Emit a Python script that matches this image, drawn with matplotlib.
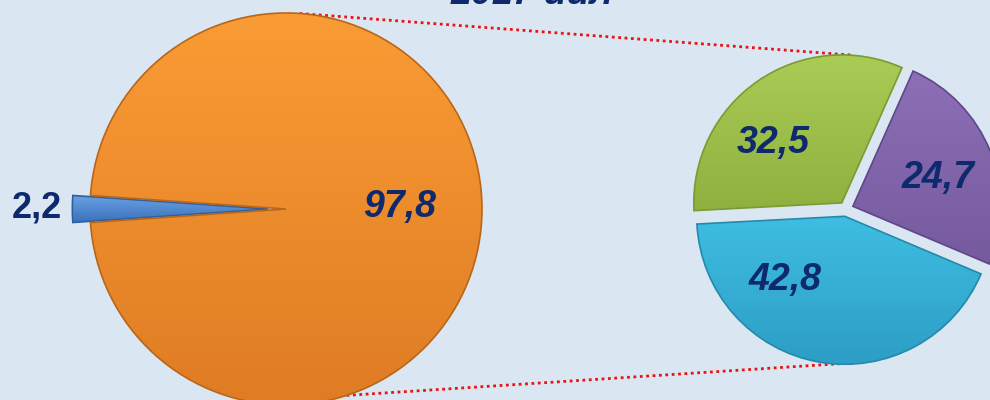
import matplotlib
matplotlib.use('Agg')
import matplotlib.pyplot as plt
from matplotlib.colors import LinearSegmentedColormap
import numpy as np

# data
title = '2017 йил'
left_values = [2.2, 97.8]
left_colors = ['#4a86cf', '#f5922f']
right_values = [32.5, 24.7, 42.8]
right_colors = ['#9cc04a', '#8163ab', '#33b2da']

# light / dark shades for the gradient fill
left_shades = [('#6aa2e6', '#3b70b8'), ('#fa9c35', '#df7c24')]
right_shades = [('#a9cc55', '#8fb03f'), ('#8c6fb6', '#765a9e'), ('#3fbde2', '#2d9ec6')]
left_edges = ['#2f5f9e', '#b8661a']
right_edges = ['#7a9a32', '#5f468a', '#2489ab']

def fmt(v):
    return ('%.1f' % v).replace('.', ',')

bg = '#dae7f3'
txt_color = '#0e2a6c'

fig = plt.figure(figsize=(9.9, 4), dpi=100, facecolor=bg)
ax = fig.add_axes([0, 0, 1, 1])
ax.set_facecolor(bg)


def shade(wedge, light, dark):
    # vertical gradient clipped to the wedge
    cmap = LinearSegmentedColormap.from_list('g', [dark, light])
    (x0, y0), (x1, y1) = wedge.get_path().get_extents().get_points()
    grad = np.linspace(0, 1, 256).reshape(-1, 1)
    im = ax.imshow(grad, cmap=cmap, origin='lower', aspect='auto',
                   extent=[x0, x1, y0, y1], zorder=wedge.get_zorder() - 0.1)
    im.set_clip_path(wedge)
    wedge.set_facecolor('none')


# left pie
lc, lr = (286, 191), 196
w1, _ = ax.pie(left_values, colors=left_colors, radius=lr, center=lc,
               startangle=180 - left_values[0] * 3.6 / 2,
               explode=[0.09 * lr, 0], frame=True,
               wedgeprops=dict(linewidth=1.2))

# right pie
rc, rr = (846, 191), 148
w2, _ = ax.pie(right_values, colors=right_colors, radius=rr, center=rc,
               startangle=183, counterclock=False,
               explode=[0.05 * rr] * 3, frame=True,
               wedgeprops=dict(linewidth=1.2))

for w, (lt, dk), ec in zip(list(w1) + list(w2), left_shades + right_shades,
                           left_edges + right_edges):
    shade(w, lt, dk)
    w.set_edgecolor(ec)

ax.set_xlim(0, 990)
ax.set_ylim(0, 400)
ax.set_aspect('equal')
ax.axis('off')

# connector lines
def on_circle(c, r, ang):
    a = np.deg2rad(ang)
    return c[0] + r * np.cos(a), c[1] + r * np.sin(a)

for a_left, a_right in [(86, 88), (-72, -87)]:
    p1 = on_circle(lc, lr, a_left)
    p2 = on_circle(rc, rr + 6, a_right)
    ax.plot([p1[0], p2[0]], [p1[1], p2[1]], color='#ee1111', lw=2.0,
            linestyle=(0, (1, 1.3)), zorder=0)

# labels
lab_font = dict(family='Liberation Sans', weight='bold', style='italic',
                fontsize=27, color=txt_color, ha='center', va='center', zorder=5)
ax.text(400, 193, fmt(left_values[1]), **lab_font)
ax.text(37, 192, fmt(left_values[0]), family='Liberation Sans', weight='bold',
        fontsize=26, color=txt_color, ha='center', va='center', zorder=5)
for (x, y), v in zip([(773, 257), (938, 222), (785, 120)], right_values):
    ax.text(x, y, fmt(v), **lab_font)

# title sits mostly above the top edge, as in the reference
ax.text(532, 396, title, family='Liberation Sans', weight='bold', style='italic',
        fontsize=27, color=txt_color, ha='center', va='baseline')

fig.savefig('out.png', dpi=100, facecolor=bg)
